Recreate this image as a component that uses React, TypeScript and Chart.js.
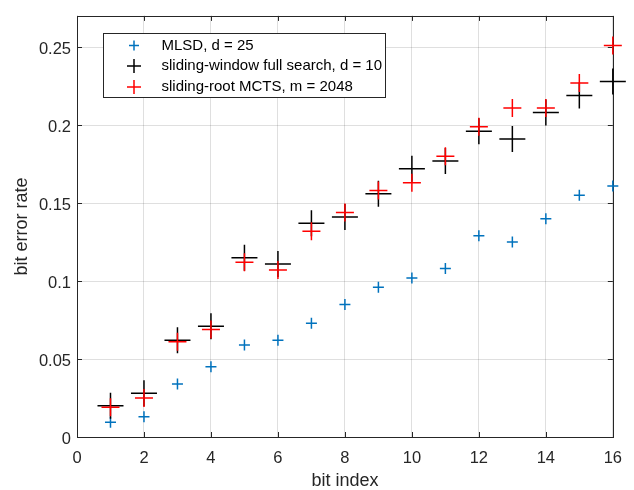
import React, { useEffect, useRef } from "react";
import { Chart, registerables } from "chart.js";

Chart.register(...registerables);

const bitIndex = [1, 2, 3, 4, 5, 6, 7, 8, 9, 10, 11, 12, 13, 14, 15, 16];
const mlsd = [0.0095, 0.013, 0.034, 0.045, 0.059, 0.062, 0.073, 0.085, 0.096, 0.102, 0.108, 0.129, 0.125, 0.140, 0.155, 0.161];
const slidingWindow = [0.020, 0.028, 0.062, 0.071, 0.115, 0.111, 0.137, 0.141, 0.156, 0.172, 0.177, 0.196, 0.191, 0.208, 0.219, 0.228];
const slidingRoot = [0.019, 0.025, 0.061, 0.069, 0.112, 0.107, 0.132, 0.144, 0.158, 0.163, 0.180, 0.199, 0.211, 0.211, 0.227, 0.251];

const seriesNames = ["MLSD, d = 25", "sliding-window full search, d = 10", "sliding-root MCTS, m = 2048"];
const seriesColors = ["#0072BD", "#000000", "#FF0000"];
const xTickValues = [0, 2, 4, 6, 8, 10, 12, 14, 16];
const yTickValues = [0, 0.05, 0.1, 0.15, 0.2, 0.25];

const FONT = '"Liberation Sans", Arial, Helvetica, sans-serif';
const AXIS_COLOR = "#262626";

const toPoints = (ys: number[]) => bitIndex.map((x, i) => ({ x, y: ys[i] }));

const matlabPlugin = {
  id: "matlabAxes",
  beforeDatasetsDraw(chart: any) {
    const { ctx, chartArea, scales } = chart;
    const { left, right, top, bottom } = chartArea;
    const xs = scales.x;
    const ys = scales.y;
    ctx.save();
    ctx.strokeStyle = AXIS_COLOR;
    ctx.lineWidth = 1;
    ctx.beginPath();
    const tl = 5;
    xTickValues.forEach((v) => {
      const px = Math.round(xs.getPixelForValue(v)) + 0.5;
      ctx.moveTo(px, bottom);
      ctx.lineTo(px, bottom - tl);
      ctx.moveTo(px, top);
      ctx.lineTo(px, top + tl);
    });
    yTickValues.forEach((v) => {
      const py = Math.round(ys.getPixelForValue(v)) + 0.5;
      ctx.moveTo(left, py);
      ctx.lineTo(left + tl, py);
      ctx.moveTo(right, py);
      ctx.lineTo(right - tl, py);
    });
    ctx.stroke();
    ctx.strokeRect(Math.round(left) + 0.5, Math.round(top) + 0.5, Math.round(right - left), Math.round(bottom - top));
    ctx.restore();
  },
  afterDatasetsDraw(chart: any) {
    const { ctx } = chart;
    ctx.save();
    const bx = 103, by = 33, bw = 282, bh = 64;
    ctx.fillStyle = "#ffffff";
    ctx.fillRect(bx, by, bw, bh);
    ctx.strokeStyle = AXIS_COLOR;
    ctx.lineWidth = 1;
    ctx.strokeRect(bx + 0.5, by + 0.5, bw, bh);
    const rows = [45.5, 66, 87];
    const half = [5, 7, 7];
    ctx.font = `15px ${FONT}`;
    ctx.textBaseline = "middle";
    ctx.textAlign = "left";
    seriesNames.forEach((name, i) => {
      const cx = 134, cy = rows[i];
      ctx.strokeStyle = seriesColors[i];
      ctx.lineWidth = 1.5;
      ctx.beginPath();
      ctx.moveTo(cx - half[i], cy);
      ctx.lineTo(cx + half[i], cy);
      ctx.moveTo(cx, cy - half[i]);
      ctx.lineTo(cx, cy + half[i]);
      ctx.stroke();
      ctx.fillStyle = "#000000";
      ctx.fillText(name, 161.5, cy);
    });
    ctx.restore();
  },
};

export default function App() {
  const canvasRef = useRef<HTMLCanvasElement | null>(null);

  useEffect(() => {
    const canvas = canvasRef.current;
    if (!canvas) return;
    const chart = new Chart(canvas, {
      type: "scatter",
      data: {
        datasets: [
          {
            label: seriesNames[0],
            data: toPoints(mlsd),
            pointStyle: "cross",
            pointRadius: 5.5,
            pointBorderWidth: 1.5,
            borderColor: seriesColors[0],
            backgroundColor: seriesColors[0],
            showLine: false,
            clip: false as any,
            order: 2,
          },
          {
            label: seriesNames[1],
            data: toPoints(slidingWindow),
            pointStyle: "cross",
            pointRadius: 13,
            pointBorderWidth: 1.5,
            borderColor: seriesColors[1],
            backgroundColor: seriesColors[1],
            showLine: false,
            clip: false as any,
            order: 1,
          },
          {
            label: seriesNames[2],
            data: toPoints(slidingRoot),
            pointStyle: "cross",
            pointRadius: 9,
            pointBorderWidth: 1.5,
            borderColor: seriesColors[2],
            backgroundColor: seriesColors[2],
            showLine: false,
            clip: false as any,
            order: 0,
          },
        ],
      },
      options: {
        responsive: false,
        animation: false,
        devicePixelRatio: 1,
        events: [],
        layout: {
          autoPadding: false,
          padding: { top: 13, right: 19, left: 0, bottom: 0 },
        },
        plugins: {
          legend: { display: false },
          tooltip: { enabled: false },
          title: { display: false },
        },
        scales: {
          x: {
            type: "linear",
            position: "bottom",
            min: 0,
            max: 16,
            afterFit: (s: any) => {
              s.height = 53;
            },
            afterBuildTicks: (s: any) => {
              s.ticks = xTickValues.map((v) => ({ value: v }));
            },
            ticks: {
              padding: 12,
              color: AXIS_COLOR,
              font: { family: FONT, size: 16.5 },
              callback: (v: any) => String(v),
            },
            grid: {
              color: "rgba(38,38,38,0.15)",
              drawTicks: false,
              lineWidth: 1,
            },
            border: { display: false },
            title: {
              display: true,
              text: "bit index",
              color: AXIS_COLOR,
              font: { family: FONT, size: 18, lineHeight: 1 },
              padding: { top: 0, bottom: 0 },
            },
          },
          y: {
            type: "linear",
            min: 0,
            max: 0.27,
            afterFit: (s: any) => {
              s.width = 77;
            },
            afterBuildTicks: (s: any) => {
              s.ticks = yTickValues.map((v) => ({ value: v }));
            },
            ticks: {
              padding: 6,
              labelOffset: 2,
              color: AXIS_COLOR,
              font: { family: FONT, size: 16.5 },
              callback: (v: any) => String(Number(Number(v).toFixed(2))),
            },
            grid: {
              color: "rgba(38,38,38,0.15)",
              drawTicks: false,
              lineWidth: 1,
            },
            border: { display: false },
            title: {
              display: true,
              text: "bit error rate",
              color: AXIS_COLOR,
              font: { family: FONT, size: 18, lineHeight: 1 },
              padding: { top: 13.5, bottom: 0 },
            },
          },
        },
      },
      plugins: [matlabPlugin],
    });
    return () => chart.destroy();
  }, []);

  return (
    <div style={{ position: "absolute", left: 0, top: 0, width: 634, height: 490, background: "#ffffff" }}>
      <canvas ref={canvasRef} width={634} height={490} style={{ width: 634, height: 490, display: "block" }} />
    </div>
  );
}
